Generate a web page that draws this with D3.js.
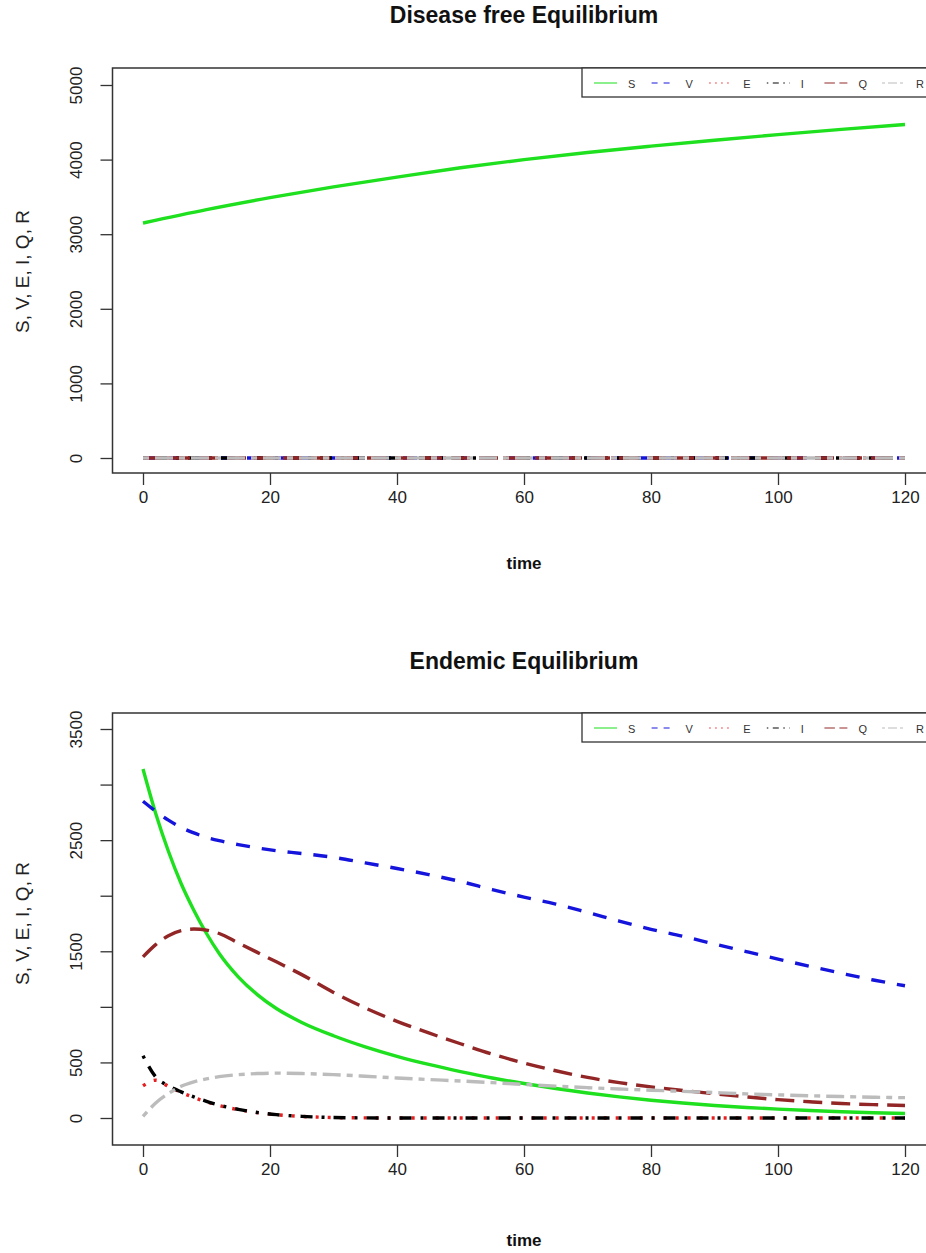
<!DOCTYPE html>
<html>
<head>
<meta charset="utf-8">
<script src="https://cdn.jsdelivr.net/npm/d3@7"></script>
<style>
  html, body { margin: 0; padding: 0; background: #fff; }
  svg { display: block; font-family: "Liberation Sans", Arial, sans-serif; }
</style>
</head>
<body>
<svg id="chart" width="926" height="1253"></svg>
<script>
// ---------------- DATA ----------------
const seriesNames = ["S", "V", "E", "I", "Q", "R"];
const xTicks = [0, 20, 40, 60, 80, 100, 120];

// Panel 1: Disease free Equilibrium
const timeTop = [0, 10, 20, 30, 40, 50, 60, 70, 80, 90, 100, 110, 120];
const sTop = [3150, 3330, 3490, 3635, 3765, 3890, 4000, 4095, 4180, 4260, 4335, 4405, 4470];
const vTop = [0, 0, 0, 0, 0, 0, 0, 0, 0, 0, 0, 0, 0];
const eTop = [0, 0, 0, 0, 0, 0, 0, 0, 0, 0, 0, 0, 0];
const iTop = [0, 0, 0, 0, 0, 0, 0, 0, 0, 0, 0, 0, 0];
const qTop = [0, 0, 0, 0, 0, 0, 0, 0, 0, 0, 0, 0, 0];
const rTop = [0, 0, 0, 0, 0, 0, 0, 0, 0, 0, 0, 0, 0];
const yTicksTop = [0, 1000, 2000, 3000, 4000, 5000];
const yLabelsTop = ["0", "1000", "2000", "3000", "4000", "5000"];

// Panel 2: Endemic Equilibrium
const timeBot = [0, 2, 4, 6, 8, 10, 12, 15, 18, 21, 25, 30, 35, 40, 45, 50, 55, 60, 65, 70, 75, 80, 85, 90, 95, 100, 105, 110, 115, 120];
const sBot = [3140, 2740, 2400, 2110, 1870, 1660, 1480, 1270, 1110, 985, 860, 740, 640, 555, 482, 418, 360, 310, 265, 225, 190, 160, 135, 113, 95, 80, 67, 56, 47, 40];
const vBot = [2850, 2760, 2680, 2615, 2565, 2525, 2495, 2460, 2430, 2405, 2380, 2345, 2295, 2245, 2190, 2128, 2055, 1988, 1925, 1850, 1772, 1698, 1635, 1565, 1497, 1430, 1365, 1302, 1242, 1190];
const eBot = [290, 340, 285, 230, 185, 146, 112, 75, 48, 29, 14, 4, 1, 0, 0, 0, 0, 0, 0, 0, 0, 0, 0, 0, 0, 0, 0, 0, 0, 0];
const iBot = [560, 370, 290, 235, 190, 150, 115, 78, 50, 30, 15, 4, 1, 0, 0, 0, 0, 0, 0, 0, 0, 0, 0, 0, 0, 0, 0, 0, 0, 0];
const qBot = [1450, 1560, 1640, 1685, 1700, 1690, 1660, 1575, 1490, 1405, 1290, 1130, 990, 870, 765, 668, 575, 495, 425, 365, 318, 280, 248, 218, 190, 165, 146, 130, 120, 113];
const rBot = [14, 135, 220, 285, 325, 352, 372, 390, 400, 404, 400, 390, 376, 360, 346, 333, 318, 302, 287, 273, 261, 250, 240, 228, 217, 208, 200, 193, 187, 183];
const yTicksBot = [0, 500, 1000, 1500, 2000, 2500, 3000, 3500];
const yLabelsBot = ["0", "500", "", "1500", "", "2500", "", "3500"];

// ---------------- STYLE ----------------
const colors = { S: "#1ee01e", V: "#1414dc", E: "#e62020", I: "#000000", Q: "#922626", R: "#bcbcbc" };
const dashPlot = { S: null, V: "14,12", E: "3,9", I: "3,9,12,9", Q: "19,9", R: "6,6,18,6" };
const dashLegend = { S: null, V: "6,6", E: "1.5,4.5", I: "1.5,4.5,6,4.5", Q: "10.5,4.5", R: "3,3,9,3" };

const svg = d3.select("#chart");
svg.append("rect").attr("width", 926).attr("height", 1253).attr("fill", "#fff");

function drawPanel(cfg) {
  const g = svg.append("g");
  const x = d3.scaleLinear().domain([0, 120]).range([143, 905]);
  const y = d3.scaleLinear().domain(cfg.yDomain).range(cfg.yRange);

  // title
  g.append("text").attr("x", 524).attr("y", cfg.titleY)
    .attr("text-anchor", "middle").attr("font-weight", "bold")
    .attr("font-size", 23).attr("fill", "#111").text(cfg.title);

  // series
  const line = d3.line().x(d => x(d[0])).y(d => y(d[1])).curve(d3.curveMonotoneX);
  cfg.series.forEach(s => {
    const pts = cfg.time.map((t, i) => [t, s.values[i]]);
    g.append("path").datum(pts)
      .attr("d", line)
      .attr("fill", "none")
      .attr("stroke", colors[s.name])
      .attr("stroke-width", 3.4)
      .attr("stroke-dasharray", dashPlot[s.name])
      .attr("stroke-linejoin", "round");
  });

  // box
  g.append("rect").attr("x", cfg.boxLeft).attr("y", cfg.boxTop)
    .attr("width", cfg.boxRight - cfg.boxLeft).attr("height", cfg.boxBottom - cfg.boxTop)
    .attr("fill", "none").attr("stroke", "#333").attr("stroke-width", 1.5);

  // x axis
  const xa = g.append("g").attr("transform", `translate(0,${cfg.boxBottom})`)
    .call(d3.axisBottom(x).tickValues(xTicks).tickSize(12).tickSizeOuter(0).tickPadding(6));
  xa.select(".domain").remove();
  xa.selectAll("line").attr("stroke", "#333").attr("stroke-width", 1.3);
  xa.selectAll("text").attr("font-size", 17).attr("fill", "#222")
    .attr("font-family", "Liberation Sans, Arial, sans-serif");

  // y axis
  const ya = g.append("g").attr("transform", `translate(${cfg.boxLeft},0)`)
    .call(d3.axisLeft(y).tickValues(cfg.yTicks).tickSize(12).tickSizeOuter(0)
      .tickFormat((d, i) => cfg.yLabels[i]));
  ya.select(".domain").remove();
  ya.selectAll("line").attr("stroke", "#333").attr("stroke-width", 1.3);
  ya.selectAll("text")
    .attr("x", null).attr("dy", null)
    .attr("transform", "translate(-31,0) rotate(-90)")
    .attr("text-anchor", "middle")
    .attr("font-size", 17).attr("fill", "#222")
    .attr("font-family", "Liberation Sans, Arial, sans-serif");

  // axis labels
  g.append("text").attr("x", 524).attr("y", cfg.xLabelY)
    .attr("text-anchor", "middle").attr("font-weight", "bold")
    .attr("font-size", 17).attr("fill", "#111").text("time");
  g.append("text")
    .attr("transform", `translate(29,${(cfg.yRange[0] + cfg.yRange[1]) / 2}) rotate(-90)`)
    .attr("text-anchor", "middle")
    .attr("font-size", 19).attr("fill", "#222").text("S, V, E, I, Q, R");

  // legend
  const lg = g.append("g").attr("transform", `translate(582,${cfg.boxTop})`);
  lg.append("rect").attr("x", 0).attr("y", 0).attr("width", 400).attr("height", 29)
    .attr("fill", "#fff").attr("stroke", "#333").attr("stroke-width", 1.3);
  seriesNames.forEach((n, i) => {
    const ox = 12 + i * 57.6;
    lg.append("line").attr("x1", ox).attr("x2", ox + 23).attr("y1", 15).attr("y2", 15)
      .attr("stroke", colors[n]).attr("stroke-width", 1.6).attr("stroke-opacity", 0.65)
      .attr("stroke-dasharray", dashLegend[n]);
    lg.append("text").attr("x", ox + 34).attr("y", 19.5)
      .attr("font-size", 11).attr("fill", "#333").text(n);
  });
}

drawPanel({
  title: "Disease free Equilibrium", titleY: 23,
  time: timeTop,
  series: [
    { name: "S", values: sTop }, { name: "V", values: vTop }, { name: "E", values: eTop },
    { name: "I", values: iTop }, { name: "Q", values: qTop }, { name: "R", values: rTop }
  ],
  yDomain: [0, 5000], yRange: [458, 85],
  yTicks: yTicksTop, yLabels: yLabelsTop,
  boxLeft: 112.5, boxRight: 936, boxTop: 68, boxBottom: 473,
  xLabelY: 569
});

drawPanel({
  title: "Endemic Equilibrium", titleY: 669,
  time: timeBot,
  series: [
    { name: "S", values: sBot }, { name: "V", values: vBot }, { name: "E", values: eBot },
    { name: "I", values: iBot }, { name: "Q", values: qBot }, { name: "R", values: rBot }
  ],
  yDomain: [0, 3500], yRange: [1118, 729],
  yTicks: yTicksBot, yLabels: yLabelsBot,
  boxLeft: 112.5, boxRight: 936, boxTop: 713, boxBottom: 1145,
  xLabelY: 1246
});
</script>
</body>
</html>
